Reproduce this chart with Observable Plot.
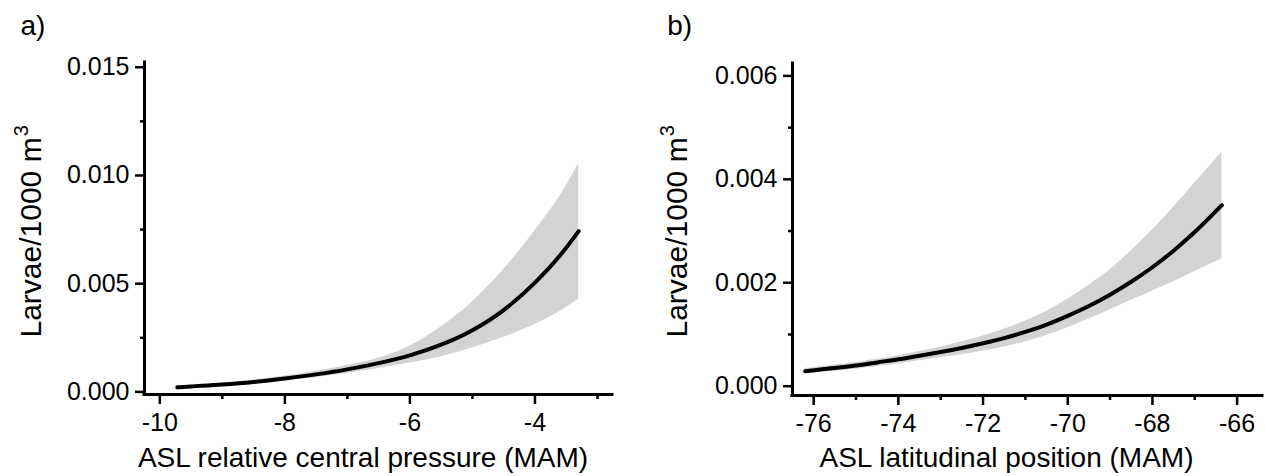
<!DOCTYPE html>
<html>
<head>
<meta charset="utf-8">
<script src="https://cdn.jsdelivr.net/npm/d3@7"></script>
<script src="https://cdn.jsdelivr.net/npm/@observablehq/plot@0.6"></script>
<style>
  html, body { margin: 0; padding: 0; background: #fff; }
  #wrap { position: relative; width: 1265px; height: 476px; overflow: hidden; }
  #wrap svg { position: absolute; top: 0; }
</style>
</head>
<body>
<div id="wrap"></div>
<script>
// ---------- Panel a: ASL relative central pressure ----------
const xA  = [-9.72, -9.5, -9, -8.5, -8, -7.5, -7, -6.5, -6, -5.5, -5, -4.5, -4, -3.6, -3.3];
const yA  = [0.00021, 0.00025, 0.00034, 0.00046, 0.00062, 0.00081, 0.00104, 0.00133, 0.00169, 0.00218, 0.00285, 0.00378, 0.00505, 0.00630, 0.00743];
const loA = [0.00017, 0.00020, 0.00028, 0.00038, 0.00051, 0.00067, 0.00086, 0.00108, 0.00133, 0.00163, 0.00203, 0.00252, 0.00312, 0.00372, 0.00428];
const hiA = [0.00026, 0.00029, 0.00040, 0.00055, 0.00074, 0.00095, 0.00122, 0.00155, 0.00212, 0.00300, 0.00415, 0.00565, 0.00745, 0.00905, 0.01055];
const yTicksA = [0, 0.005, 0.010, 0.015];
const yMinorA = [0.0025, 0.0075, 0.0125];
const xTicksA = [-10, -8, -6, -4];
const xMinorA = [-9, -7, -5, -3];
const xLabelA = "ASL relative central pressure (MAM)";
const panelA = "a)";

// ---------- Panel b: ASL latitudinal position ----------
const xB  = [-76.2, -75.5, -75, -74.5, -74, -73.5, -73, -72.5, -72, -71.5, -71, -70.5, -70, -69.5, -69, -68.5, -68, -67.5, -67, -66.36];
const yB  = [0.00029, 0.00035, 0.00040, 0.00046, 0.00052, 0.00059, 0.00066, 0.00074, 0.00083, 0.00093, 0.00105, 0.00119, 0.00136, 0.00155, 0.00177, 0.00202, 0.00230, 0.00262, 0.00298, 0.00350];
const loB = [0.00024, 0.00029, 0.00033, 0.00038, 0.00043, 0.00049, 0.00055, 0.00061, 0.00068, 0.00076, 0.00086, 0.00098, 0.00113, 0.00130, 0.00148, 0.00166, 0.00184, 0.00202, 0.00222, 0.00246];
const hiB = [0.00034, 0.00041, 0.00046, 0.00052, 0.00059, 0.00067, 0.00076, 0.00086, 0.00097, 0.00110, 0.00126, 0.00145, 0.00168, 0.00195, 0.00225, 0.00262, 0.00302, 0.00346, 0.00393, 0.00452];
const yTicksB = [0, 0.002, 0.004, 0.006];
const yMinorB = [0.001, 0.003, 0.005];
const xTicksB = [-76, -74, -72, -70, -68, -66];
const xMinorB = [-75, -73, -71, -69, -67];
const xLabelB = "ASL latitudinal position (MAM)";
const panelB = "b)";

// shared
const yLabelBase = "Larvae/1000 m";
const yLabelSup = "3";

const FONT = "'Liberation Sans', Arial, Helvetica, sans-serif";
const BAND = "#d1d3d4";

function panel(cfg) {
  const rows = cfg.xs.map((x, i) => ({x, y: cfg.ys[i], lo: cfg.los[i], hi: cfg.his[i]}));
  const L = cfg.marginLeft, T = cfg.marginTop, B = cfg.height - cfg.marginBottom;
  const svg = Plot.plot({
    width: cfg.width,
    height: cfg.height,
    marginLeft: cfg.marginLeft,
    marginRight: cfg.marginRight,
    marginTop: cfg.marginTop,
    marginBottom: cfg.marginBottom,
    style: {fontFamily: FONT, fontSize: "25px", color: "black", background: "transparent", overflow: "visible"},
    x: {domain: cfg.xDomain, label: null},
    y: {domain: cfg.yDomain, label: null},
    marks: [
      Plot.areaY(rows, {x: "x", y1: "lo", y2: "hi", fill: BAND, curve: "monotone-x"}),
      Plot.line(rows, {x: "x", y: "y", stroke: "black", strokeWidth: 4, curve: "monotone-x", strokeLinecap: "round"}),
      Plot.axisY({ticks: cfg.yTicks, tickSize: 9, tickPadding: 6, tickFormat: d3.format(".3f"), strokeWidth: 2.5, fontSize: 25, label: null}),
      Plot.axisY({ticks: cfg.yMinor, tickSize: 4, tickFormat: () => "", strokeWidth: 2.5, label: null}),
      Plot.axisX({ticks: cfg.xTicks, tickSize: 10, tickPadding: 9, tickFormat: d => String(d), strokeWidth: 2.5, fontSize: 25, label: null}),
      Plot.axisX({ticks: cfg.xMinor, tickSize: 5, tickFormat: () => "", strokeWidth: 2.5, label: null}),
      Plot.ruleX([cfg.xDomain[0]], {stroke: "black", strokeWidth: 3, strokeLinecap: "square"}),
      Plot.ruleY([cfg.yDomain[0]], {stroke: "black", strokeWidth: 3, strokeLinecap: "square"}),
      Plot.text([cfg.xLabel], {text: d => d, frameAnchor: "bottom-left", dx: cfg.xLabelX - L, dy: 466.5 - B,
        textAnchor: "middle", lineAnchor: "bottom", fontSize: 28, fill: "black"}),
      Plot.text([yLabelBase], {text: d => d, frameAnchor: "bottom-left", dx: cfg.yLabelX - L, dy: 337 - B,
        rotate: -90, textAnchor: "start", lineAnchor: "bottom", fontSize: 30, fill: "black"}),
      Plot.text([cfg.panel], {text: d => d, frameAnchor: "top-left", dx: cfg.panelX - L, dy: 34 - T,
        textAnchor: "start", lineAnchor: "bottom", fontSize: 28, fill: "black"})
    ]
  });
  // superscript on the y label
  svg.querySelectorAll("text").forEach(t => {
    if (t.textContent === yLabelBase) {
      const ts = document.createElementNS("http://www.w3.org/2000/svg", "tspan");
      ts.setAttribute("dy", "-13");
      ts.setAttribute("dx", "1");
      ts.setAttribute("font-size", "20");
      ts.textContent = yLabelSup;
      t.appendChild(ts);
    }
  });
  svg.style.left = cfg.left + "px";
  return svg;
}

const wrap = document.getElementById("wrap");
wrap.appendChild(panel({
  left: 0, width: 632, height: 476,
  marginLeft: 144, marginRight: 20, marginTop: 62, marginBottom: 82,
  xDomain: [-10.245, -2.76], yDomain: [-0.00012, 0.01522],
  xs: xA, ys: yA, los: loA, his: hiA,
  yTicks: yTicksA, yMinor: yMinorA, xTicks: xTicksA, xMinor: xMinorA,
  xLabel: xLabelA, xLabelX: 362.5, yLabelX: 40, panel: panelA, panelX: 20
}));
wrap.appendChild(panel({
  left: 632, width: 633, height: 476,
  marginLeft: 160, marginRight: 3, marginTop: 63, marginBottom: 81,
  xDomain: [-76.5, -65.4], yDomain: [-0.00018, 0.00624],
  xs: xB, ys: yB, los: loB, his: hiB,
  yTicks: yTicksB, yMinor: yMinorB, xTicks: xTicksB, xMinor: xMinorB,
  xLabel: xLabelB, xLabelX: 374, yLabelX: 54.7, panel: panelB, panelX: 34.7
}));
</script>
</body>
</html>
